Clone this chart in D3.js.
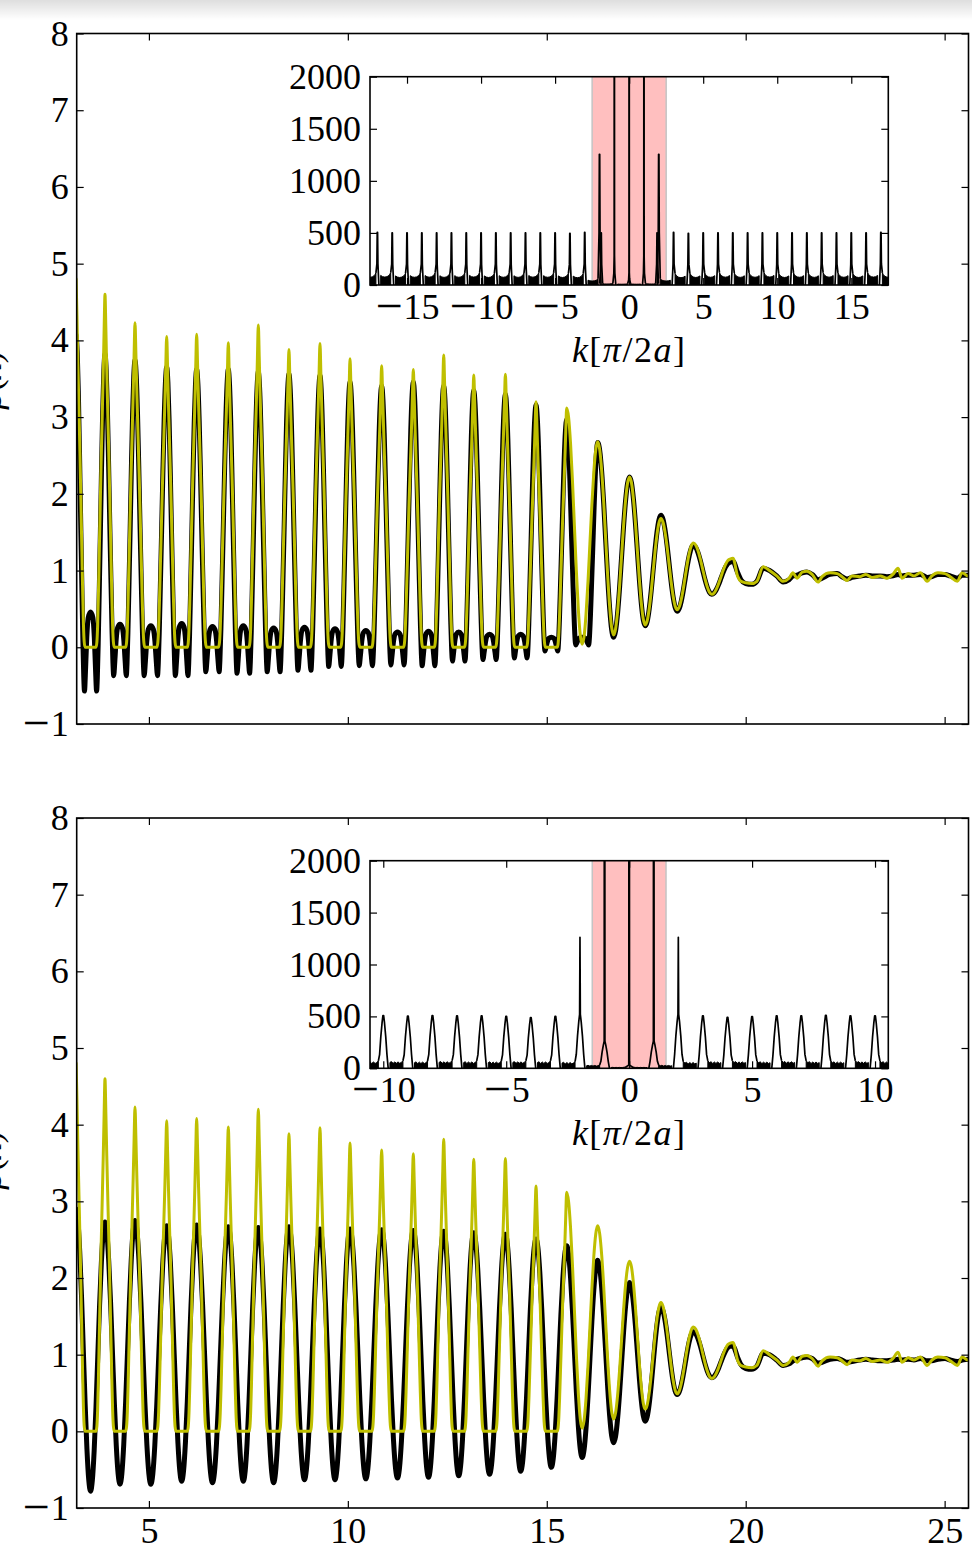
<!DOCTYPE html>
<html>
<head>
<meta charset="utf-8">
<script src="https://cdnjs.cloudflare.com/ajax/libs/d3/7.8.5/d3.min.js"></script>
<style>
html,body{margin:0;padding:0;background:#fff;}
svg{display:block;}
</style>
</head>
<body>
<svg id="chart" width="972" height="1551"></svg>
<script>
// ================= DATA =================
// positions of the oscillation maxima (x)
const peakX = [3.17, 3.896, 4.65, 5.447, 6.20, 6.996, 7.75, 8.52, 9.30, 10.055, 10.85, 11.646, 12.41, 13.165, 13.96, 14.73, 15.50, 16.28, 17.08, 17.87, 18.685, 19.61];
// yellow curve (same in both panels)
const yellowPeak   = [4.80, 4.60, 4.23, 4.05, 4.08, 3.97, 4.20, 3.88, 3.96, 3.76, 3.67, 3.62, 3.81, 3.55, 3.56, 3.20, 3.12, 2.68, 2.22, 1.68, 1.36, 1.15];
const yellowTrough = [0,0,0,0,0,0,0,0,0,0,0,0,0,0,0,0, 0.04, 0.16, 0.29, 0.49, 0.69];
const yellowMode   = ['sharp','sharp','sharp','sharp','sharp','sharp','sharp','sharp','sharp','sharp','sharp','sharp','sharp','sharp','sharp','sharp','smooth','smooth','smooth','smooth','smooth'];
// black curve, upper panel
const topBlackPeak = [4.07, 3.82, 3.74, 3.65, 3.62, 3.62, 3.59, 3.56, 3.54, 3.46, 3.41, 3.46, 3.41, 3.35, 3.30, 3.16, 2.97, 2.67, 2.22, 1.72, 1.33, 1.11];
const topBlackMin  = [-0.57, -0.37, -0.37, -0.37, -0.32, -0.34, -0.32, -0.30, -0.25, -0.24, -0.23, -0.24, -0.18, -0.16, -0.14, -0.05, 0.03, 0.13, 0.28, 0.47, 0.69];
const topBlackBump = [0.46, 0.30, 0.28, 0.31, 0.27, 0.28, 0.25, 0.26, 0.24, 0.22, 0.20, 0.21, 0.20, 0.17, 0.17, 0.13, 0.13, null, null, null, null];
const topBlackMode = ['dip','dip','dip','dip','dip','dip','dip','dip','dip','dip','dip','dip','dip','dip','dip','dip','dip','smooth','smooth','smooth','smooth'];
// black curve, lower panel
const botBlackPeak   = [2.90, 2.73, 2.75, 2.68, 2.69, 2.67, 2.66, 2.67, 2.64, 2.64, 2.63, 2.62, 2.61, 2.59, 2.57, 2.51, 2.42, 2.23, 1.94, 1.62, 1.30, 1.11];
const botBlackTrough = [-0.78, -0.69, -0.69, -0.65, -0.67, -0.65, -0.67, -0.63, -0.63, -0.62, -0.61, -0.60, -0.58, -0.56, -0.52, -0.47, -0.34, -0.15, 0.13, 0.48, 0.70];
const botBlackMode   = ['smooth','smooth','smooth','smooth','smooth','smooth','smooth','smooth','smooth','smooth','smooth','smooth','smooth','smooth','smooth','smooth','smooth','smooth','smooth','smooth','smooth'];
// noisy tail beyond the last maximum
const tailX        = [19.68, 19.80, 19.88, 20.00, 20.15, 20.28, 20.44, 20.60, 20.78, 20.94, 21.09, 21.19, 21.29, 21.42, 21.54, 21.67, 21.82, 21.92, 22.12, 22.30, 22.42, 22.55, 22.67, 22.87, 23.02, 23.18, 23.38, 23.55, 23.70, 23.83, 23.93, 24.08, 24.23, 24.39, 24.56, 24.68, 24.83, 25.01, 25.14, 25.32, 25.44, 25.59, 25.70];
const tailYellow   = [1.16, 0.92, 0.86, 0.84, 0.83, 0.86, 1.05, 1.00, 0.93, 0.86, 0.90, 0.97, 0.90, 0.98, 0.99, 0.95, 0.85, 0.92, 0.97, 0.96, 0.92, 0.87, 0.93, 0.92, 0.95, 0.91, 0.93, 0.90, 0.95, 1.03, 0.90, 0.96, 0.93, 0.97, 0.86, 0.93, 0.97, 0.96, 0.92, 0.86, 0.97, 0.93, 0.95];
const tailTopBlack = [1.12, 0.97, 0.88, 0.83, 0.82, 0.86, 1.03, 1.00, 0.93, 0.85, 0.88, 0.93, 0.94, 0.97, 0.98, 0.95, 0.88, 0.90, 0.95, 0.96, 0.92, 0.89, 0.91, 0.93, 0.94, 0.93, 0.93, 0.92, 0.93, 0.95, 0.93, 0.94, 0.94, 0.95, 0.91, 0.92, 0.95, 0.95, 0.93, 0.90, 0.94, 0.94, 0.95];
const tailBotBlack = [1.11, 0.96, 0.87, 0.82, 0.81, 0.85, 1.02, 1.00, 0.93, 0.86, 0.88, 0.92, 0.94, 0.96, 0.97, 0.95, 0.89, 0.90, 0.94, 0.95, 0.93, 0.90, 0.91, 0.93, 0.94, 0.93, 0.92, 0.92, 0.93, 0.94, 0.93, 0.94, 0.93, 0.95, 0.92, 0.92, 0.94, 0.95, 0.93, 0.91, 0.93, 0.94, 0.95];

// shape profiles of one half period: [fraction of period, relative height]
const sharpProfile  = [[0,1],[0.03,0.9],[0.06,0.78],[0.10,0.64],[0.135,0.52],[0.17,0.38],[0.20,0.26],[0.23,0.14],[0.255,0.06],[0.28,0.015],[0.31,0],[0.5,0]];
const smoothProfile = [[0,1],[0.0625,0.96],[0.125,0.85],[0.1875,0.69],[0.25,0.5],[0.3125,0.31],[0.375,0.15],[0.4375,0.04],[0.5,0]];
const dipDescent    = [[0,1],[0.04,0.95],[0.08,0.83],[0.12,0.66],[0.16,0.47],[0.20,0.29],[0.235,0.14],[0.265,0.04],[0.29,0]];
const dipBump       = [[0.29,0],[0.33,0.3],[0.37,0.68],[0.42,0.93],[0.5,1]];

// main axis ticks
const mainYTicks  = [-1, 0, 1, 2, 3, 4, 5, 6, 7, 8];
const mainYLabels = ['−1','0','1','2','3','4','5','6','7','8'];
const mainXTicks  = [5, 10, 15, 20, 25];
const mainXLabels = ['5','10','15','20','25'];

// ----- insets: k[π/2a] spectra -----
const insetYTicks  = [0, 500, 1000, 1500, 2000];
const insetYLabels = ['0','500','1000','1500','2000'];

const topInsetK    = [-17,-16,-15,-14,-13,-12,-11,-10,-9,-8,-7,-6,-5,-4,-3,-2,-1,0,1,2,3,4,5,6,7,8,9,10,11,12,13,14,15,16,17];
const topInsetTip  = [505,500,500,500,500,500,500,500,500,500,500,500,500,495,505,1255,9000,9000,9000,1255,505,495,500,500,500,500,500,500,500,500,500,500,500,500,505];
const topInsetBody = [505,500,500,500,500,500,500,500,500,500,500,500,500,495,505,1255,280,120,280,1255,505,495,500,500,500,500,500,500,500,500,500,500,500,500,505];
const topInsetFloor = [78, 80,76,78,79,77,78,80,76,78,77,79,78,76,74, 40, 10, 8, 8, 10, 40, 74,76,78,79,77,78,80,76,78,77,79,78,76,80, 78];
const topInsetSatK = [-1.89, 1.89];
const topInsetSatH = [500, 500];
const topInsetBand = [-2.5, 2.5];
const topInsetXTicks  = [-15, -10, -5, 0, 5, 10, 15];
const topInsetXLabels = ['−15','−10','−5','0','5','10','15'];

const botInsetK    = [-10,-9,-8,-7,-6,-5,-4,-3,-2,-1,0,1,2,3,4,5,6,7,8,9,10];
const botInsetTip  = [508,502,508,505,505,500,489,500,1262,9000,9000,9000,1262,505,490,497,505,505,510,505,505];
const botInsetBody = [508,502,508,505,505,500,489,500,520,260,30,260,520,505,490,497,505,505,510,505,505];
const botInsetFloor = [55, 56,54,57,55,54,56,55,50, 25, 8, 8, 25, 50,55,56,54,57,55,54,56, 55];
const botInsetBand = [-1.5, 1.5];
const botInsetXTicks  = [-10, -5, 0, 5, 10];
const botInsetXLabels = ['−10','−5','0','5','10'];

const needleShape = [[0.1, null],[0.035,0.4],[0.012,1]];
const broadShape  = [[0.2, null],[0.15,0.26],[0.1,0.6],[0.05,0.86],[0.015,1]];
const needleFloor = [[0.1,1.5],[0.16,1.3],[0.22,1.15],[0.35,1.0],[0.5,0.95],[0.65,1.0],[0.78,1.15],[0.84,1.3],[0.9,1.5]];
const broadFloor  = [[0.2,1.3],[0.27,1.0],[0.33,1.15],[0.4,0.85],[0.47,1.1],[0.53,0.85],[0.6,1.1],[0.67,0.85],[0.73,1.0],[0.8,1.3]];

// ================= DRAWING =================
const FONT = '"Liberation Serif", "DejaVu Serif", serif';
const FS = 36;
const YELLOW = '#bfbf00';
const svg = d3.select('#chart');
const defs = svg.append('defs');

// soft shadow at the very top
const sh = defs.append('linearGradient').attr('id','shadow').attr('x1',0).attr('y1',0).attr('x2',0).attr('y2',1);
sh.append('stop').attr('offset','0%').attr('stop-color','#000').attr('stop-opacity',0.13);
sh.append('stop').attr('offset','100%').attr('stop-color','#000').attr('stop-opacity',0);
svg.append('rect').attr('x',0).attr('y',0).attr('width',972).attr('height',20).attr('fill','url(#shadow)');

function halfProfile(mode, P, seg) {
  if (mode === 'sharp')  return sharpProfile.map(([d,w]) => [d, seg.t + (P - seg.t) * w]);
  if (mode === 'smooth') return smoothProfile.map(([d,w]) => [d, seg.t + (P - seg.t) * w]);
  const a = dipDescent.map(([d,w]) => [d, seg.t + (P - seg.t) * w]);
  const b = dipBump.slice(1).map(([d,v]) => [d, seg.t + (seg.b - seg.t) * v]);
  return a.concat(b);
}
function buildCurve(xs, peaks, modes, troughs, bumps, tx, ty) {
  const pts = [];
  for (let i = 0; i < xs.length - 1; i++) {
    const x0 = xs[i], x1 = xs[i+1], L = x1 - x0;
    const seg = {t: troughs[i], b: bumps ? bumps[i] : null};
    const left = halfProfile(modes[i], peaks[i], seg);
    const right = halfProfile(modes[i], peaks[i+1], seg);
    left.forEach(([d,y]) => pts.push([x0 + d * L, y]));
    for (let j = right.length - 1; j >= 0; j--) {
      const [d,y] = right[j];
      if (d > 0 && d < 0.5) pts.push([x1 - d * L, y]);
    }
  }
  pts.push([xs[xs.length-1], peaks[peaks.length-1]]);
  tx.forEach((x,i) => pts.push([x, ty[i]]));
  return pts;
}

const yellowPts = buildCurve(peakX, yellowPeak, yellowMode, yellowTrough, null, tailX, tailYellow);
const topBlackPts = buildCurve(peakX, topBlackPeak, topBlackMode, topBlackMin, topBlackBump, tailX, tailTopBlack);
const botBlackPts = buildCurve(peakX, botBlackPeak, botBlackMode, botBlackTrough, null, tailX, tailBotBlack);

// long TeX-like minus sign
function widenMinus(sel) {
  sel.selectAll('.tick text').each(function() {
    const t = d3.select(this); const s = t.text();
    if (s.startsWith('−')) {
      t.text(null);
      t.append('tspan').attr('font-size', 48).attr('baseline-shift', -3).text('−');
      t.append('tspan').attr('dx', 1).text(s.slice(1));
    }
  });
}
function styleAxis(sel) {
  sel.attr('font-family', FONT).attr('font-size', FS);
  sel.select('.domain').remove();
  sel.selectAll('.tick line').attr('stroke', '#000').attr('stroke-width', 1.2);
  sel.selectAll('.tick text').attr('fill', '#000');
  widenMinus(sel);
}

const mainLeft = 76.7, mainRight = 968.5;
const xMain = d3.scaleLinear().domain([3.185, 25.6]).range([mainLeft, mainRight]);

const panels = [
  {top: 33.5, bottom: 724, black: topBlackPts, showX: false, labelY: 380},
  {top: 818, bottom: 1508, black: botBlackPts, showX: true, labelY: 1160}
];

panels.forEach((p, pi) => {
  const y = d3.scaleLinear().domain([-1, 8]).range([p.bottom, p.top]);
  const clipId = 'mclip' + pi;
  defs.append('clipPath').attr('id', clipId).append('rect')
    .attr('x', mainLeft).attr('y', p.top).attr('width', mainRight - mainLeft).attr('height', p.bottom - p.top);
  const g = svg.append('g');
  const line = d3.line().x(d => xMain(d[0])).y(d => y(d[1])).curve(d3.curveMonotoneX);
  const cg = g.append('g').attr('clip-path', `url(#${clipId})`);
  cg.append('path').attr('d', line(p.black)).attr('fill','none').attr('stroke','#000')
    .attr('stroke-width', 5).attr('stroke-linejoin','round').attr('stroke-linecap','round');
  cg.append('path').attr('d', line(yellowPts)).attr('fill','none').attr('stroke', YELLOW)
    .attr('stroke-width', 3).attr('stroke-linejoin','round').attr('stroke-linecap','round');

  // axes
  g.append('g').attr('transform', `translate(${mainLeft},0)`)
    .call(d3.axisLeft(y).tickValues(mainYTicks).tickSize(-7).tickPadding(8).tickFormat((d,i) => mainYLabels[i]))
    .call(styleAxis);
  g.append('g').attr('transform', `translate(${mainRight},0)`)
    .call(d3.axisRight(y).tickValues(mainYTicks).tickSize(-7).tickFormat(''))
    .call(styleAxis);
  g.append('g').attr('transform', `translate(0,${p.top})`)
    .call(d3.axisTop(xMain).tickValues(mainXTicks).tickSize(-7).tickFormat(''))
    .call(styleAxis);
  g.append('g').attr('transform', `translate(0,${p.bottom})`)
    .call(d3.axisBottom(xMain).tickValues(mainXTicks).tickSize(-7).tickPadding(9)
      .tickFormat((d,i) => p.showX ? mainXLabels[i] : ''))
    .call(styleAxis);
  g.append('rect').attr('x', mainLeft).attr('y', p.top).attr('width', mainRight - mainLeft)
    .attr('height', p.bottom - p.top).attr('fill','none').attr('stroke','#000').attr('stroke-width',1.6);

  // y label (cut off by the left edge of the picture, as in the original)
  const yl = svg.append('text').attr('transform', `translate(0.5,${p.labelY}) rotate(-90)`)
    .attr('text-anchor','middle').attr('font-family', FONT).attr('font-size', FS).attr('fill','#000');
  yl.append('tspan').attr('font-style','italic').text('ρ');
  yl.append('tspan').text('(');
  yl.append('tspan').attr('font-style','italic').text('x');
  yl.append('tspan').text(')');
});

function drawInset(cfg) {
  const {x0, x1, y0, y1, kDomain, ks, tips, bodies, floors, band, xTicks, xLabels,
         shape, floorProfile, innerGap, satK, satH, labelY, id} = cfg;
  const xs = d3.scaleLinear().domain(kDomain).range([x0, x1]);
  const ys = d3.scaleLinear().domain([0, 2000]).range([y1, y0]);
  const g = svg.append('g');
  g.append('rect').attr('x', x0).attr('y', y0).attr('width', x1 - x0).attr('height', y1 - y0).attr('fill', '#fff');
  defs.append('clipPath').attr('id', id).append('rect').attr('x', x0).attr('y', y0).attr('width', x1 - x0).attr('height', y1 - y0);
  const cg = g.append('g').attr('clip-path', `url(#${id})`);
  // shaded band
  cg.append('rect').attr('x', xs(band[0])).attr('y', y0).attr('width', xs(band[1]) - xs(band[0]))
    .attr('height', y1 - y0).attr('fill', '#ffbfbf');
  band.forEach(b => cg.append('line').attr('x1', xs(b)).attr('x2', xs(b)).attr('y1', y0).attr('y2', y1)
    .attr('stroke', '#c4c4c4').attr('stroke-width', 1.5));

  // dense floor between the peaks
  const area = d3.area().x(d => xs(d[0])).y0(ys(0)).y1(d => ys(d[1]));
  const n = ks.length;
  for (let gI = 0; gI <= n; gI++) {
    const lk = gI === 0 ? ks[0] - 1 : ks[gI-1];
    const rk = gI === n ? ks[n-1] + 1 : ks[gI];
    const f = floors[gI];
    const dipL = gI > 0 && lk < 0;
    const dipR = gI < n && rk > 0;
    const pts = floorProfile.filter(([d]) => (!dipL || d >= innerGap) && (!dipR || d <= 1 - innerGap))
      .map(([d,w]) => [lk + d * (rk - lk), f * w]);
    cg.append('path').attr('d', area(pts)).attr('fill', '#000').attr('stroke', '#000').attr('stroke-width', 1);
  }
  // peaks
  const line = d3.line().x(d => xs(d[0])).y(d => ys(d[1]));
  const baseW = floorProfile[0][1];
  function peakPath(k, T, B, lb, rb) {
    const pts = [];
    shape.forEach(([dk, w]) => pts.push([k - dk, w === null ? lb : B * w]));
    pts.push([k, T]);
    for (let j = shape.length - 1; j >= 0; j--) {
      const [dk, w] = shape[j];
      pts.push([k + dk, w === null ? rb : B * w]);
    }
    cg.append('path').attr('d', line(pts)).attr('fill', 'none').attr('stroke', '#000')
      .attr('stroke-width', 1.7).attr('stroke-linejoin', 'round');
  }
  ks.forEach((k, i) => {
    const lb = k > 0 ? 0 : floors[i] * baseW;
    const rb = k < 0 ? 0 : floors[i+1] * baseW;
    peakPath(k, tips[i], bodies[i], lb, rb);
  });
  if (satK) satK.forEach((k, i) => peakPath(k, satH[i], satH[i], 12, 12));

  // axes
  g.append('g').attr('transform', `translate(${x0},0)`)
    .call(d3.axisLeft(ys).tickValues(insetYTicks).tickSize(-7).tickPadding(9).tickFormat((d,i) => insetYLabels[i]))
    .call(styleAxis);
  g.append('g').attr('transform', `translate(${x1},0)`)
    .call(d3.axisRight(ys).tickValues(insetYTicks).tickSize(-7).tickFormat(''))
    .call(styleAxis);
  g.append('g').attr('transform', `translate(0,${y0})`)
    .call(d3.axisTop(xs).tickValues(xTicks).tickSize(-7).tickFormat(''))
    .call(styleAxis);
  g.append('g').attr('transform', `translate(0,${y1})`)
    .call(d3.axisBottom(xs).tickValues(xTicks).tickSize(-7).tickPadding(8).tickFormat((d,i) => xLabels[i]))
    .call(styleAxis);
  g.append('rect').attr('x', x0).attr('y', y0).attr('width', x1 - x0).attr('height', y1 - y0)
    .attr('fill', 'none').attr('stroke', '#000').attr('stroke-width', 1.6);

  const t = g.append('text').attr('x', xs(0)).attr('y', labelY).attr('text-anchor', 'middle')
    .attr('font-family', FONT).attr('font-size', FS).attr('fill', '#000').attr('letter-spacing', 1.5);
  t.append('tspan').attr('font-style', 'italic').text('k');
  t.append('tspan').text('[');
  t.append('tspan').attr('font-style', 'italic').text('π');
  t.append('tspan').text('/2');
  t.append('tspan').attr('font-style', 'italic').text('a');
  t.append('tspan').text(']');
}

drawInset({
  id: 'iclip0', x0: 370, x1: 888.3, y0: 76.7, y1: 285, kDomain: [-17.5, 17.5],
  ks: topInsetK, tips: topInsetTip, bodies: topInsetBody, floors: topInsetFloor, band: topInsetBand,
  xTicks: topInsetXTicks, xLabels: topInsetXLabels, shape: needleShape, floorProfile: needleFloor,
  innerGap: 0.22, satK: topInsetSatK, satH: topInsetSatH, labelY: 362
});
drawInset({
  id: 'iclip1', x0: 370, x1: 888.3, y0: 860.7, y1: 1068.3, kDomain: [-10.54, 10.54],
  ks: botInsetK, tips: botInsetTip, bodies: botInsetBody, floors: botInsetFloor, band: botInsetBand,
  xTicks: botInsetXTicks, xLabels: botInsetXLabels, shape: broadShape, floorProfile: broadFloor,
  innerGap: 0.27, satK: null, satH: null, labelY: 1145
});
</script>
</body>
</html>
